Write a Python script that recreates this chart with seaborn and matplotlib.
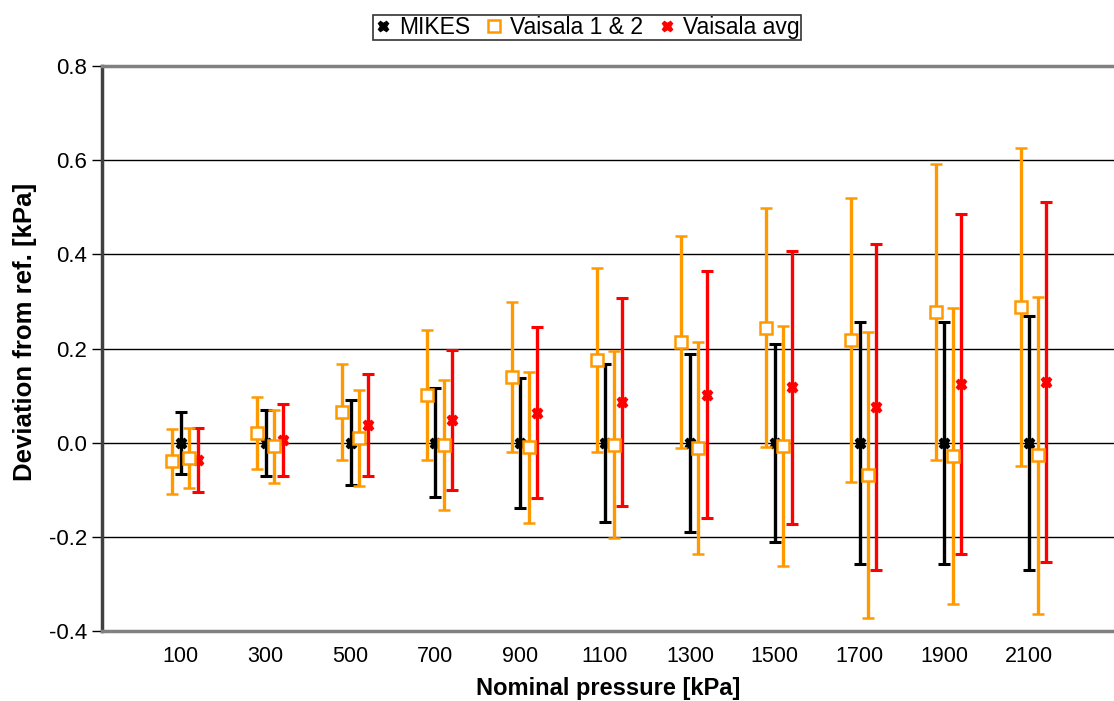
import numpy as np
import matplotlib
matplotlib.use('Agg')
import matplotlib.pyplot as plt
import seaborn as sns
from matplotlib.lines import Line2D

# Values
pressure = [100, 300, 500, 700, 900, 1100, 1300, 1500, 1700, 1900, 2100]
mikes_dev = [0.0] * 11
mikes_err = [0.066, 0.070, 0.090, 0.116, 0.138, 0.168, 0.189, 0.210, 0.257, 0.257, 0.270]
v1_dev = [-0.040, 0.020, 0.066, 0.101, 0.139, 0.176, 0.214, 0.244, 0.218, 0.277, 0.288]
v1_err = [0.068, 0.076, 0.102, 0.138, 0.159, 0.195, 0.225, 0.254, 0.302, 0.314, 0.338]
v2_dev = [-0.032, -0.008, 0.010, -0.005, -0.010, -0.004, -0.012, -0.008, -0.069, -0.028, -0.027]
v2_err = [0.064, 0.077, 0.102, 0.138, 0.160, 0.198, 0.225, 0.255, 0.303, 0.315, 0.336]
avg_dev = [-0.036, 0.006, 0.038, 0.048, 0.064, 0.086, 0.102, 0.118, 0.076, 0.125, 0.129]
avg_err = [0.068, 0.077, 0.108, 0.148, 0.181, 0.221, 0.262, 0.290, 0.346, 0.361, 0.383]

sns.set_style('white')
plt.rcParams['font.family'] = ['Liberation Sans', 'DejaVu Sans']
for key in ['text.color', 'axes.labelcolor', 'xtick.color', 'ytick.color']:
    plt.rcParams[key] = 'black'

orange = '#FF9900'
red = '#FF0000'

fig = plt.figure(figsize=(11.14, 7.01), dpi=100)
ax = fig.add_axes([0.0916, 0.0999, 0.9084, 0.8059])

x = np.array(pressure, dtype=float)
eb = dict(capsize=4, capthick=2.2, elinewidth=2.4, linestyle='none')

ax.errorbar(x, mikes_dev, yerr=mikes_err, color='black', marker='X', markersize=7.5, zorder=3, **eb)
ax.errorbar(x - 20, v1_dev, yerr=v1_err, color=orange, marker='s', markersize=8,
            markerfacecolor='white', markeredgewidth=1.8, zorder=4, **eb)
ax.errorbar(x + 20, v2_dev, yerr=v2_err, color=orange, marker='s', markersize=8,
            markerfacecolor='white', markeredgewidth=1.8, zorder=4, **eb)
ax.errorbar(x + 40, avg_dev, yerr=avg_err, color=red, marker='X', markersize=7.5, zorder=3, **eb)

ax.set_xlim(-86, 2300)
ax.set_ylim(-0.4, 0.8)
ax.set_yticks(np.arange(-0.4, 0.81, 0.2))
ax.set_yticklabels([f'{v:.1f}' for v in np.arange(-0.4, 0.81, 0.2)])
ax.set_xticks(pressure)
ax.set_xticklabels([str(p) for p in pressure])
ax.tick_params(axis='y', direction='out', length=7, width=1, color='black', labelsize=16, left=True, pad=4)
ax.tick_params(axis='x', length=0, labelsize=15.5, pad=11)

for v in [-0.2, 0.0, 0.2, 0.4, 0.6]:
    ax.axhline(v, color='black', linewidth=1, zorder=1)

ax.spines['left'].set_color('#404040')
ax.spines['left'].set_linewidth(2.5)
for s in ['top', 'bottom']:
    ax.spines[s].set_color('#808080')
    ax.spines[s].set_linewidth(2.5)
ax.spines['right'].set_visible(False)

ax.set_xlabel('Nominal pressure [kPa]', fontsize=17, fontweight='bold', labelpad=7)
ax.set_ylabel('Deviation from ref. [kPa]', fontsize=18.5, fontweight='bold')
ax.yaxis.set_label_coords(-0.064, 0.53)

handles = [
    Line2D([], [], color='black', marker='X', linestyle='none', markersize=7.5),
    Line2D([], [], color=orange, marker='s', markerfacecolor='white', markeredgewidth=1.8,
           linestyle='none', markersize=8),
    Line2D([], [], color=red, marker='X', linestyle='none', markersize=7.5),
]
leg = fig.legend(handles, ['MIKES', 'Vaisala 1 & 2', 'Vaisala avg'], loc='center',
                 bbox_to_anchor=(0.527, 0.961), ncol=3, fontsize=16.5, frameon=True,
                 fancybox=False, handlelength=0.7, handletextpad=0.35, columnspacing=0.7,
                 borderpad=0.05, borderaxespad=0)
leg.get_frame().set_edgecolor('black')
leg.get_frame().set_linewidth(1.2)

fig.savefig('out.png', dpi=100)
